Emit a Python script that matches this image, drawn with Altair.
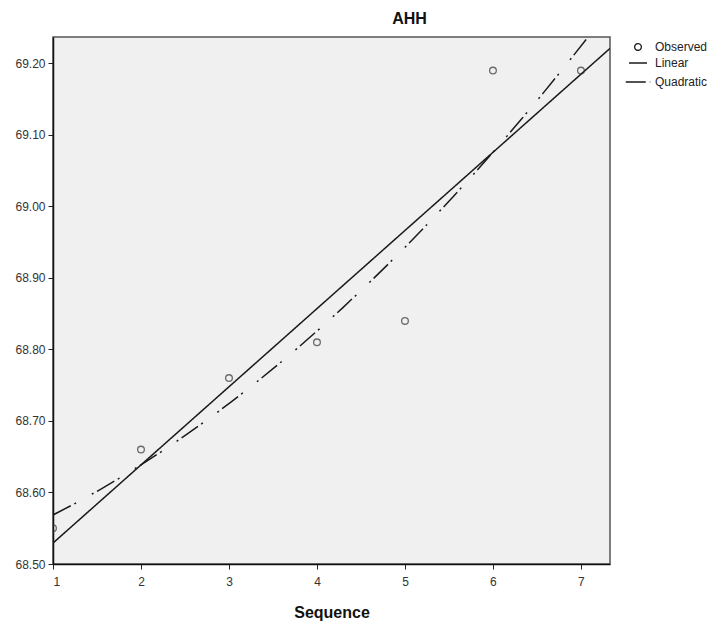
import altair as alt
import pandas as pd

# Observed AHH values by sequence number
sequence = [1, 2, 3, 4, 5, 6, 7]
ahh = [68.55, 68.66, 68.76, 68.81, 68.84, 69.19, 69.19]

series_names = ["Observed", "Linear", "Quadratic"]
y_ticks = [68.5, 68.6, 68.7, 68.8, 68.9, 69.0, 69.1, 69.2]
x_ticks = [1, 2, 3, 4, 5, 6, 7]

df = pd.DataFrame({"Sequence": sequence, "AHH": ahh, "series": "Observed"})

FONT = "Liberation Sans"
x_dom = [1, 7.33]
y_dom = [68.5, 69.237]

x_enc = alt.X(
    "Sequence:Q",
    scale=alt.Scale(domain=x_dom, nice=False, zero=False),
    axis=alt.Axis(values=x_ticks, format="d", title="Sequence", grid=False,
                  labelPadding=7, titlePadding=17),
)
y_enc = alt.Y(
    "AHH:Q",
    scale=alt.Scale(domain=y_dom, nice=False, zero=False),
    axis=alt.Axis(values=y_ticks, format=".2f", title=None, grid=False),
)

legend = alt.Legend(
    title=None,
    orient="right",
    offset=11,
    padding=4,
    labelFont=FONT,
    labelFontSize=12,
    labelColor="#222",
    symbolStrokeWidth=1.3,
    rowPadding=0,
    labelOffset=4,
)

# dash-dot-dot style: dash, gap, dot, long gap, dot, gap
quad_dash = [20, 4, 2, 18, 2, 4]

shape_scale = alt.Scale(domain=series_names, range=["circle", "stroke", "stroke"])
size_scale = alt.Scale(domain=series_names, range=[45, 600, 600])
dash_scale = alt.Scale(domain=series_names, range=[[1, 0], [1, 0], quad_dash])

points = alt.Chart(df).mark_point(
    filled=False, color="#333", strokeWidth=1.3, clip=True
).encode(
    x=x_enc,
    y=y_enc,
    shape=alt.Shape("series:N", scale=shape_scale, legend=legend),
    size=alt.Size("series:N", scale=size_scale, legend=legend),
)

linear = alt.Chart(df).transform_regression(
    "Sequence", "AHH", method="linear", extent=x_dom
).transform_calculate(series="'Linear'").mark_line(
    color="#1a1a1a", strokeWidth=1.5, clip=True
).encode(
    x=x_enc,
    y=y_enc,
    strokeDash=alt.StrokeDash("series:N", scale=dash_scale, legend=legend),
)

quadratic = alt.Chart(df).transform_regression(
    "Sequence", "AHH", method="poly", order=2, extent=x_dom
).transform_calculate(series="'Quadratic'").mark_line(
    color="#1a1a1a", strokeWidth=1.5, clip=True
).encode(
    x=x_enc,
    y=y_enc,
    strokeDash=alt.StrokeDash("series:N", scale=dash_scale, legend=legend),
)

chart = alt.layer(quadratic, linear, points).properties(
    width=557,
    height=527,
    background="white",
    title=alt.TitleParams(
        "AHH", font=FONT, fontSize=16, fontWeight="bold", color="#111",
        anchor="middle", dx=78, offset=10,
    ),
    padding={"left": 14, "top": 11, "right": 5, "bottom": 5},
).configure_view(
    fill="#f0f0f0", stroke="#555", strokeWidth=1.5
).configure_axis(
    labelFont=FONT, labelFontSize=12, labelColor="#333",
    tickColor="#222", tickSize=5, domainColor="#111", domainWidth=1.5,
    titleFont=FONT, titleFontSize=16, titleFontWeight="bold", titleColor="#111",
    labelPadding=3,
)

chart.save("out.html", embed_options={"renderer": "svg", "actions": False})
